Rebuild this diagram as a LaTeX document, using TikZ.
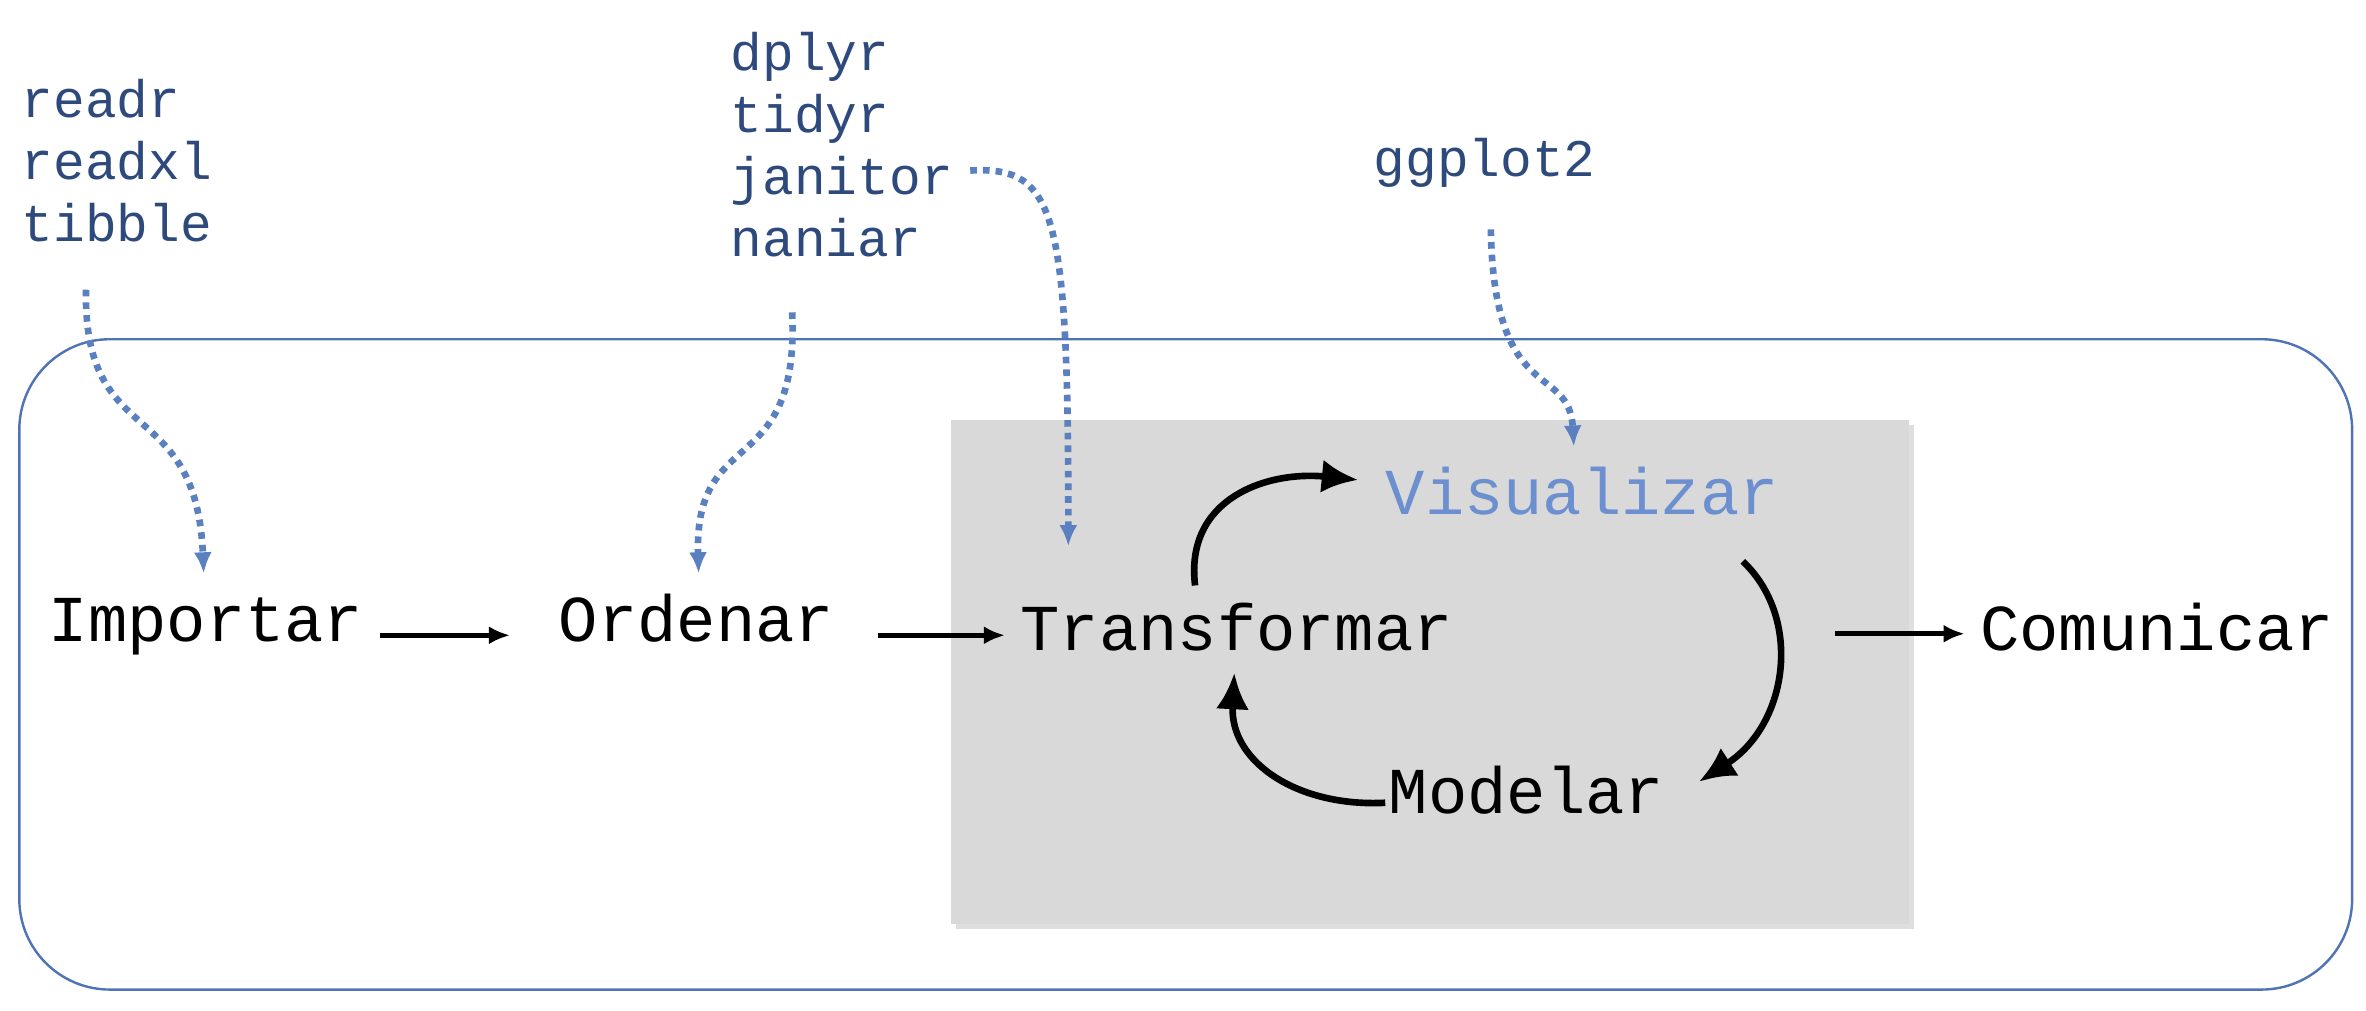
\documentclass[tikz,border=0pt]{standalone}
\usepackage{fontspec}
\setmonofont{Liberation Mono}
\usetikzlibrary{arrows.meta,shadows}
\definecolor{frame}{HTML}{4F73B5}
\definecolor{pkg}{HTML}{2E4A7D}
\definecolor{vis}{HTML}{6C8FD0}
\definecolor{dot}{HTML}{5B80C0}
\begin{document}
\begin{tikzpicture}[x=0.5pt,y=-0.5pt,
  main/.style={anchor=base west,inner sep=0pt,font=\ttfamily\fontsize{21.7}{24}\selectfont},
  pk/.style={anchor=base west,inner sep=0pt,align=left,text=pkg,font=\ttfamily\fontsize{17.5}{20.5}\selectfont},
  flow/.style={-{Latex[length=7pt,width=6pt]},line width=1.6pt},
  cyc/.style={-{Latex[length=12pt,width=11pt]},line width=2.2pt},
  dt/.style={dot,line width=2.2pt,dotted,-{Latex[length=7pt,width=6pt]}}]
\useasboundingbox (0,0) rectangle (1568,670);
\node[draw=frame,line width=0.8pt,rounded corners=30pt,minimum width=1546*0.5pt,minimum height=431*0.5pt,anchor=north west] (outer) at (12,224) {};
\node[fill=black!15,drop shadow={opacity=0.25,shadow xshift=1.5pt,shadow yshift=-1.5pt},minimum width=635*0.5pt,minimum height=334*0.5pt,anchor=north west] (gray) at (630,278) {};
\node[main] (imp) at (32,425) {Importar};
\node[main] (ord) at (370,425) {Ordenar};
\node[main] (tra) at (676,431) {Transformar};
\node[main] (com) at (1312,431) {Comunicar};
\node[main,text=vis] (vis) at (918,341) {Visualizar};
\node[main] (mod) at (920,539) {Modelar};
\node[pk] (p1) at (14,160) {readr\\readxl\\tibble};
\node[pk] (p2) at (484,170) {dplyr\\tidyr\\janitor\\naniar};
\node[pk] (p3) at (910,117) {ggplot2};
\coordinate (a1) at (252,421); \coordinate (a2) at (338,421);
\coordinate (b1) at (582,421); \coordinate (b2) at (666,421);
\coordinate (c1) at (1216,420); \coordinate (c2) at (1302,420);
\draw[flow] (a1) -- (a2);
\draw[flow] (b1) -- (b2);
\draw[flow] (c1) -- (c2);
\coordinate (v1) at (792,388); \coordinate (v2) at (900,318);
\coordinate (m1) at (1155,372); \coordinate (m2) at (1126,518);
\coordinate (t1) at (918,532); \coordinate (t2) at (818,446);
\draw[cyc] (v1) .. controls (785,330) and (840,312) .. (v2);
\draw[cyc] (m1) .. controls (1195,410) and (1185,480) .. (m2);
\draw[cyc] (t1) .. controls (860,535) and (815,505) .. (t2);
\coordinate (d1) at (57,192); \coordinate (e1) at (135,380);
\coordinate (d2) at (525,207); \coordinate (e2) at (463,380);
\coordinate (d3) at (643,113); \coordinate (e3) at (708,362);
\coordinate (d4) at (988,152); \coordinate (e4) at (1043,296);
\draw[dt] (d1) .. controls (55,300) and (130,260) .. (e1);
\draw[dt] (d2) .. controls (530,320) and (460,280) .. (e2);
\draw[dt] (d3) .. controls (700,110) and (708,140) .. (e3);
\draw[dt] (d4) .. controls (990,270) and (1040,240) .. (e4);
\end{tikzpicture}
\end{document}
